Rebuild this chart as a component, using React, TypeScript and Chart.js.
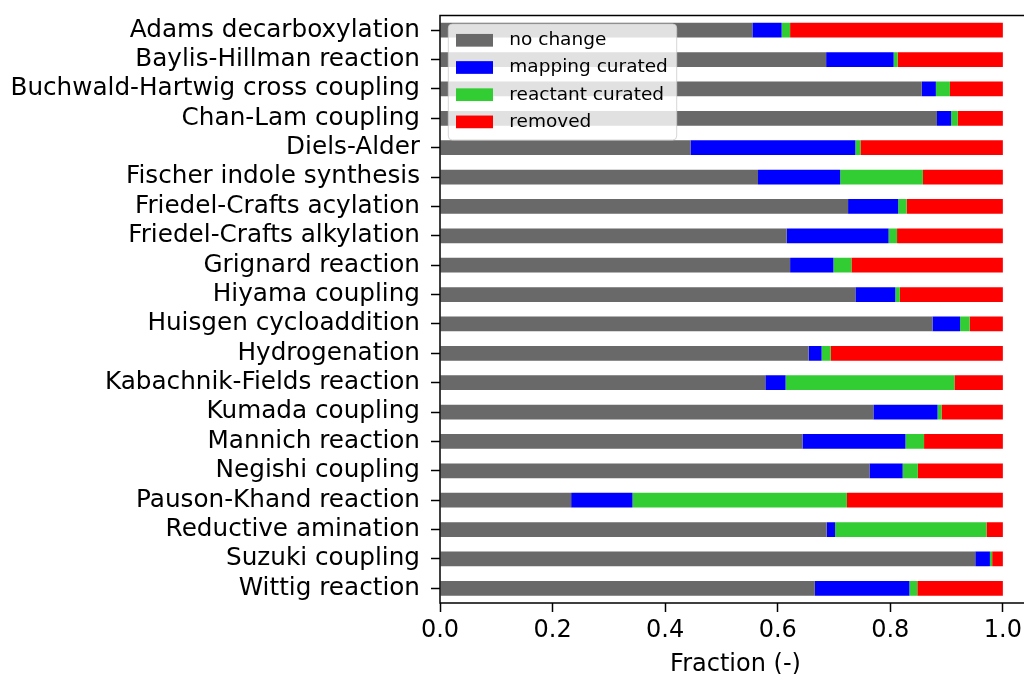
import React, { useEffect, useRef } from "react";
import { Chart, registerables } from "chart.js";

Chart.register(...registerables);

const categories = [
  "Adams decarboxylation",
  "Baylis-Hillman reaction",
  "Buchwald-Hartwig cross coupling",
  "Chan-Lam coupling",
  "Diels-Alder",
  "Fischer indole synthesis",
  "Friedel-Crafts acylation",
  "Friedel-Crafts alkylation",
  "Grignard reaction",
  "Hiyama coupling",
  "Huisgen cycloaddition",
  "Hydrogenation",
  "Kabachnik-Fields reaction",
  "Kumada coupling",
  "Mannich reaction",
  "Negishi coupling",
  "Pauson-Khand reaction",
  "Reductive amination",
  "Suzuki coupling",
  "Wittig reaction",
];

const noChange = [0.555, 0.686, 0.856, 0.883, 0.445, 0.565, 0.725, 0.616, 0.622, 0.738, 0.875, 0.655, 0.578, 0.770, 0.644, 0.763, 0.233, 0.687, 0.951, 0.666];
const mappingCurated = [0.052, 0.120, 0.025, 0.025, 0.293, 0.146, 0.089, 0.181, 0.077, 0.071, 0.049, 0.023, 0.036, 0.114, 0.183, 0.059, 0.109, 0.015, 0.026, 0.168];
const reactantCurated = [0.015, 0.007, 0.025, 0.012, 0.009, 0.147, 0.015, 0.015, 0.032, 0.008, 0.017, 0.016, 0.300, 0.007, 0.033, 0.027, 0.381, 0.269, 0.004, 0.014];
const removed = [0.378, 0.187, 0.094, 0.080, 0.253, 0.142, 0.171, 0.188, 0.269, 0.183, 0.059, 0.306, 0.086, 0.109, 0.140, 0.151, 0.277, 0.029, 0.019, 0.152];

const seriesLabels = ["no change", "mapping curated", "reactant curated", "removed"];
const seriesColors = ["#696969", "#0000ff", "#32cd32", "#ff0000"];
const seriesValues = [noChange, mappingCurated, reactantCurated, removed];

const xAxisTitle = "Fraction (-)";
const xMin = 0;
const xMax = 1.05;
const xStep = 0.2;

const FONT = "'DejaVu Sans', 'Liberation Sans', sans-serif";

const framePlugin = {
  id: "frameAndLegend",
  afterDatasetsDraw(chart: any) {
    const { ctx, chartArea: a } = chart;
    ctx.save();
    // spines (left, top, bottom; right spine lies outside the visible frame)
    ctx.strokeStyle = "#000";
    ctx.lineWidth = 1.5;
    ctx.beginPath();
    ctx.moveTo(a.right, a.bottom);
    ctx.lineTo(a.left, a.bottom);
    ctx.lineTo(a.left, a.top);
    ctx.lineTo(a.right, a.top);
    ctx.stroke();

    // legend box
    const bx = a.left + 8.3;
    const by = a.top + 8.5;
    const bw = 228.4;
    const bh = 116;
    const r = 4;
    ctx.beginPath();
    ctx.moveTo(bx + r, by);
    ctx.lineTo(bx + bw - r, by);
    ctx.arcTo(bx + bw, by, bx + bw, by + r, r);
    ctx.lineTo(bx + bw, by + bh - r);
    ctx.arcTo(bx + bw, by + bh, bx + bw - r, by + bh, r);
    ctx.lineTo(bx + r, by + bh);
    ctx.arcTo(bx, by + bh, bx, by + bh - r, r);
    ctx.lineTo(bx, by + r);
    ctx.arcTo(bx, by, bx + r, by, r);
    ctx.closePath();
    ctx.fillStyle = "rgba(255,255,255,0.8)";
    ctx.fill();
    ctx.strokeStyle = "rgba(204,204,204,0.8)";
    ctx.lineWidth = 1;
    ctx.stroke();

    ctx.font = `18.5px ${FONT}`;
    ctx.textBaseline = "middle";
    ctx.textAlign = "left";
    chart.data.datasets.forEach((ds: any, i: number) => {
      const cy = by + 16.3 + i * 27.2;
      ctx.fillStyle = ds.backgroundColor;
      ctx.fillRect(bx + 7.7, cy - 6.35, 37, 12.7);
      ctx.fillStyle = "#000";
      ctx.fillText(ds.label, bx + 61, cy);
    });
    ctx.restore();
  },
};

export default function App() {
  const canvasRef = useRef<HTMLCanvasElement | null>(null);

  useEffect(() => {
    const canvas = canvasRef.current;
    if (!canvas) return;
    const chart = new Chart(canvas, {
      type: "bar",
      data: {
        labels: categories,
        datasets: seriesLabels.map((label, i) => ({
          label,
          data: seriesValues[i],
          backgroundColor: seriesColors[i],
          borderWidth: 0,
          barPercentage: 0.5,
          categoryPercentage: 1.0,
        })),
      },
      options: {
        indexAxis: "y",
        responsive: false,
        animation: false,
        devicePixelRatio: 1,
        layout: { padding: { top: 15.5, right: 9, left: 0, bottom: 0 } },
        plugins: {
          legend: { display: false },
          tooltip: { enabled: false },
        },
        scales: {
          x: {
            type: "linear",
            stacked: true,
            min: xMin,
            max: xMax,
            afterFit: (scale: any) => {
              scale.height = 87;
              scale.paddingLeft = 0;
              scale.paddingRight = 0;
              scale.paddingTop = 0;
              scale.paddingBottom = 0;
            },
            afterBuildTicks: (scale: any) => {
              scale.ticks = scale.ticks.filter((t: any) => t.value <= 1.0001);
            },
            ticks: {
              stepSize: xStep,
              includeBounds: false,
              color: "#000",
              font: { family: FONT, size: 24 },
              padding: 4,
              maxRotation: 0,
              callback: (v: any) => Number(v).toFixed(1),
            },
            grid: {
              drawOnChartArea: false,
              drawTicks: true,
              tickLength: 9,
              tickColor: "#000",
              tickWidth: 1.5,
            },
            border: { display: false },
            title: {
              display: true,
              text: xAxisTitle,
              color: "#000",
              font: { family: FONT, size: 24 },
              padding: { top: 0, bottom: 10.6 },
            },
          },
          y: {
            type: "category",
            stacked: true,
            afterFit: (scale: any) => {
              scale.width = 440;
              scale.paddingLeft = 0;
              scale.paddingRight = 0;
              scale.paddingTop = 0;
              scale.paddingBottom = 0;
            },
            ticks: {
              autoSkip: false,
              color: "#000",
              font: { family: FONT, size: 24.7 },
              padding: 11,
            },
            grid: {
              offset: false,
              drawOnChartArea: false,
              drawTicks: true,
              tickLength: 9,
              tickColor: "#000",
              tickWidth: 1.5,
            },
            border: { display: false },
          },
        },
      },
      plugins: [framePlugin],
    } as any);
    return () => chart.destroy();
  }, []);

  return (
    <div
      style={{
        position: "fixed",
        left: 0,
        top: 0,
        width: 1024,
        height: 674,
        overflow: "hidden",
        background: "#fff",
      }}
    >
      <canvas
        ref={canvasRef}
        width={1040}
        height={690}
        style={{ width: "1040px", height: "690px", display: "block" }}
      />
    </div>
  );
}
